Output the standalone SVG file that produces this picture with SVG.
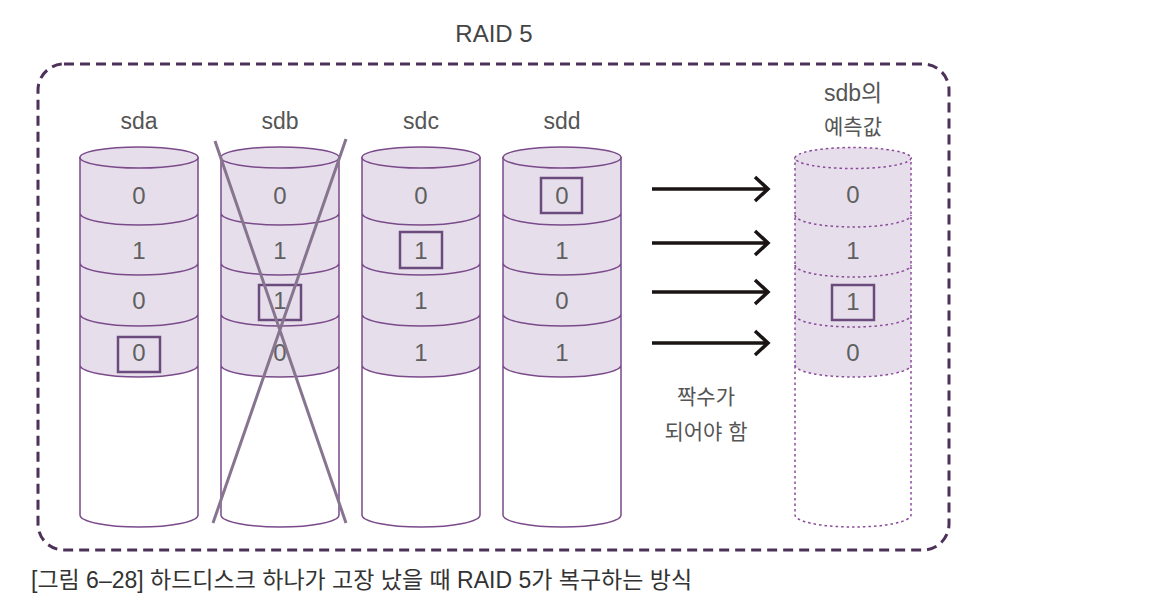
<svg xmlns="http://www.w3.org/2000/svg" xmlns:xlink="http://www.w3.org/1999/xlink" width="1160" height="610" viewBox="0 0 1160 610">
<style>
.lbl{font-family:"Liberation Sans","Noto Sans CJK KR",sans-serif;font-size:23px;fill:#555;text-anchor:middle}
.ko{font-family:"Liberation Sans","Noto Sans CJK KR",sans-serif;font-size:21px;fill:#555;text-anchor:middle}
.num{font-family:"Liberation Sans",sans-serif;font-size:24px;fill:#606060;text-anchor:middle}
.box{fill:none;stroke:#6b4a7c;stroke-width:2.5}
.arrow{stroke:#1a1414;stroke-width:3.5;fill:none}
.cap{font-family:"Liberation Sans","Noto Sans CJK KR",sans-serif;font-size:23px;fill:#333}
</style>
<defs>
<g id="cyl">
<path d="M0,157 V515 A59,12 0 0 0 118,515 V157 Z" fill="#fff"/>
<path d="M0,157 V365 A59,12 0 0 0 118,365 V157 Z" fill="#e6dfeb"/>
<path d="M0,157 V515 A59,12 0 0 0 118,515 V157 M0,213 A59,12 0 0 0 118,213 M0,263 A59,12 0 0 0 118,263 M0,314 A59,12 0 0 0 118,314 M0,365 A59,12 0 0 0 118,365" fill="none" stroke="#7a4a8a" stroke-width="1.5"/>
<ellipse cx="59" cy="157.5" rx="59" ry="10.5" fill="#e6dfeb" stroke="#7a4a8a" stroke-width="1.5"/>
</g>
<g id="cyld">
<path d="M0,157 V515 A58,12 0 0 0 116,515 V157 Z" fill="#fff"/>
<path d="M0,157 V365 A58,12 0 0 0 116,365 V157 Z" fill="#e6dfeb"/>
<path d="M0,157 V515 A58,12 0 0 0 116,515 V157 M0,215 A58,12 0 0 0 116,215 M0,265 A58,12 0 0 0 116,265 M0,315 A58,12 0 0 0 116,315 M0,365 A58,12 0 0 0 116,365" fill="none" stroke="#8a4a9a" stroke-width="1.5" stroke-dasharray="2.5,3"/>
<ellipse cx="58" cy="158" rx="58" ry="10.5" fill="#e6dfeb" stroke="#8a4a9a" stroke-width="1.5" stroke-dasharray="2.5,3"/>
</g>
</defs>
<rect width="1160" height="610" fill="#fff"/>
<text x="494" y="42" class="lbl" style="font-size:24px;fill:#444">RAID 5</text>
<rect x="38" y="64" width="911" height="486" rx="26" fill="none" stroke="#4d3158" stroke-width="3" stroke-dasharray="10,6"/>

<g id="sda">
<text x="139" y="129" class="lbl">sda</text>
<use xlink:href="#cyl" x="80"/>
<text x="139" y="204" class="num">0</text>
<text x="139" y="259" class="num">1</text>
<text x="139" y="309" class="num">0</text>
<text x="139" y="361" class="num">0</text>
<rect x="118" y="337" width="42" height="35" class="box"/>
</g>

<g id="sdb">
<text x="280" y="129" class="lbl">sdb</text>
<use xlink:href="#cyl" x="221"/>
<text x="280" y="204" class="num">0</text>
<text x="280" y="259" class="num">1</text>
<text x="280" y="309" class="num">1</text>
<text x="280" y="361" class="num">0</text>
<rect x="259" y="285" width="42" height="35" class="box"/>
<path d="M215,141 L346,523 M346,139 L213,523" stroke="#877590" stroke-width="3" fill="none"/>
</g>

<g id="sdc">
<text x="421" y="129" class="lbl">sdc</text>
<use xlink:href="#cyl" x="362"/>
<text x="421" y="204" class="num">0</text>
<text x="421" y="259" class="num">1</text>
<text x="421" y="309" class="num">1</text>
<text x="421" y="361" class="num">1</text>
<rect x="400" y="232" width="42" height="36" class="box"/>
</g>

<g id="sdd">
<text x="562" y="129" class="lbl">sdd</text>
<use xlink:href="#cyl" x="503"/>
<text x="562" y="204" class="num">0</text>
<text x="562" y="259" class="num">1</text>
<text x="562" y="309" class="num">0</text>
<text x="562" y="361" class="num">1</text>
<rect x="541" y="178" width="41" height="35" class="box"/>
</g>

<g id="predicted">
<text x="853" y="101" class="lbl">sdb의</text>
<text x="853" y="134" class="ko">예측값</text>
<use xlink:href="#cyld" x="795"/>
<text x="853" y="203" class="num">0</text>
<text x="853" y="259" class="num">1</text>
<text x="853" y="310" class="num">1</text>
<text x="853" y="361" class="num">0</text>
<rect x="832" y="285" width="42" height="35" class="box"/>
</g>

<g id="connectors">
<path d="M652,189 H768 M755,177 L768,189 L755,201" class="arrow"/>
<path d="M652,243 H768 M755,231 L768,243 L755,255" class="arrow"/>
<path d="M652,292 H768 M755,280 L768,292 L755,304" class="arrow"/>
<path d="M652,343 H768 M755,331 L768,343 L755,355" class="arrow"/>
</g>

<g id="note">
<text x="706" y="404" class="ko">짝수가</text>
<text x="706" y="439" class="ko">되어야 함</text>
</g>

<text x="31" y="588" class="cap">[그림 6–28] 하드디스크 하나가 고장 났을 때 RAID 5가 복구하는 방식</text>
</svg>
